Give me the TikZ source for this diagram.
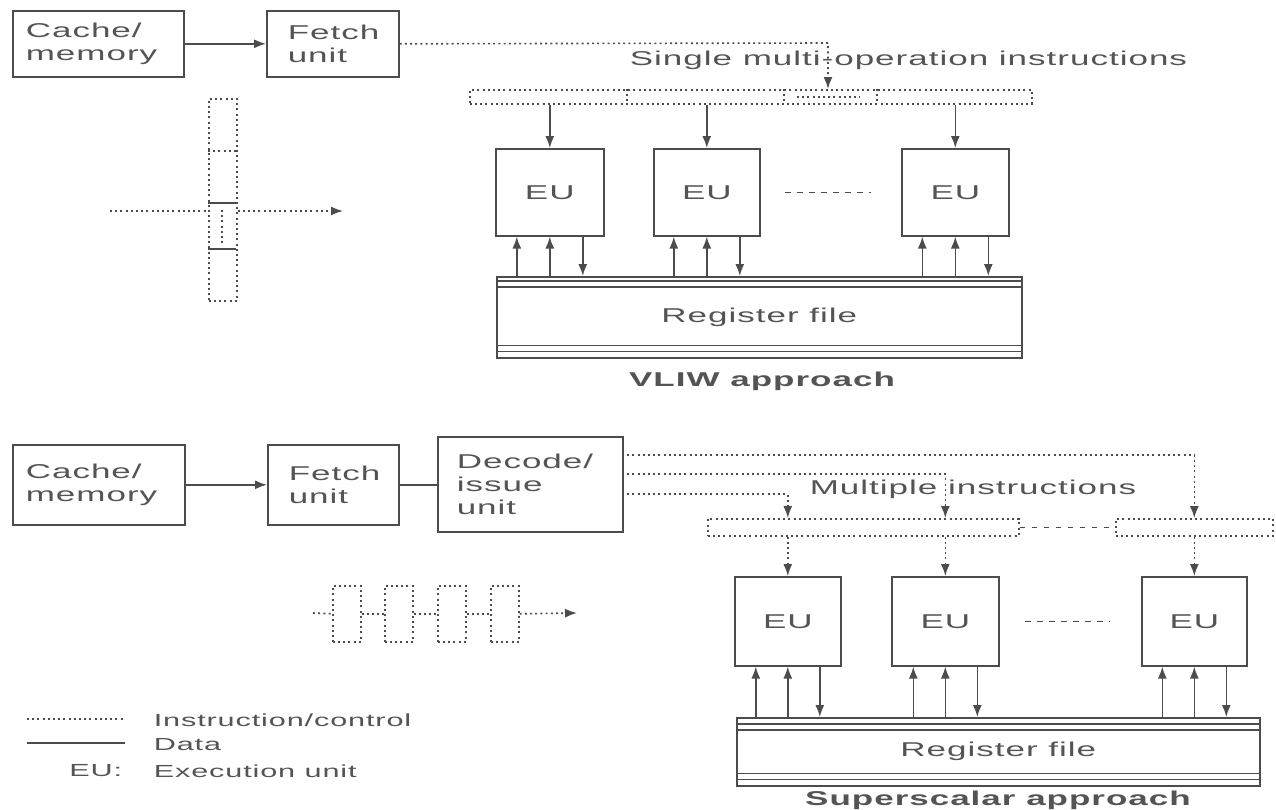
\documentclass[tikz,border=0pt]{standalone}
\usepackage{fontspec}
\setmainfont{Liberation Sans}[FakeStretch=1.75,LetterSpace=5]
\usetikzlibrary{arrows.meta}
\definecolor{ln}{gray}{0.30}
\definecolor{tx}{gray}{0.33}
\begin{document}
\begin{tikzpicture}[x=1pt,y=-1pt,
  line width=1.6pt,
  unitbox/.style={draw=ln, line width=1.6pt, text=tx, font=\fontsize{20}{23}\selectfont,
    anchor=north west, align=left, inner ysep=0pt},
  eubox/.style={draw=ln, line width=1.6pt, text=tx, font=\fontsize{20}{23}\selectfont,
    anchor=north west, inner sep=0pt},
  lbl/.style={text=tx, font=\fontsize{20}{23}\selectfont, inner sep=0pt},
  keytext/.style={text=tx, font=\fontsize{17.5}{20}\selectfont, inner sep=0pt},
  title/.style={text=tx, font=\fontsize{20}{23}\selectfont\bfseries, inner sep=0pt},
  dataln/.style={draw=ln, line width=1.6pt},
  ctrl/.style={draw=ln, line width=1.6pt, dash pattern=on 2pt off 3.2pt},
  gap/.style={draw=ln, line width=1.6pt, dash pattern=on 6pt off 6pt},
  tip/.style={-{Latex[length=12pt,width=9pt]}},
  regline/.style={draw=ln, line width=1.2pt}
]
\useasboundingbox (0,0) rectangle (1276,809);

% ---------------- VLIW approach ----------------
\node[unitbox, minimum width=171pt, minimum height=66pt, text width=145pt, inner xsep=13pt]
  (cacheA) at (12,10) {Cache/\\memory};
\node[unitbox, minimum width=132pt, minimum height=66pt, text width=90pt, inner xsep=21pt]
  (fetchA) at (266,10) {Fetch\\unit};
\draw[dataln,tip] (cacheA) -- (fetchA);

% long instruction word
\node[ctrl, anchor=north west, minimum width=562pt, minimum height=14pt, inner sep=0pt]
  (wordA) at (469,89) {};
\foreach \x in {627,784,877} \draw[ctrl] (\x,89) -- (\x,103);
\draw[ctrl] (797,97) -- (860,97);
\coordinate (turnA) at (828,43);
\draw[ctrl,tip] (fetchA.east) -- (turnA) -- (turnA |- wordA.north);
\node[lbl, anchor=west] (multiop) at (629,60) {Single multi-operation instructions};

% execution units
\node[eubox, minimum width=108pt, minimum height=87pt] (euA1) at (495,148) {EU};
\node[eubox, minimum width=106pt, minimum height=87pt] (euA2) at (653,148) {EU};
\node[eubox, minimum width=107pt, minimum height=87pt] (euA3) at (901,148) {EU};
\draw[gap] (euA2.east) ++(24,0) coordinate (gA1) -- ++(86,0) coordinate (gA2);
\foreach \e in {euA1,euA2,euA3}
  \draw[dataln,tip] (\e.north |- wordA.south) -- (\e.north);

% register file
\node[draw=ln, anchor=north west, minimum width=525pt, minimum height=81pt, inner sep=0pt,
  text=tx, font=\fontsize{20}{23}\selectfont] (regA) at (496,276) {Register file};
\draw[regline] ([yshift=-5pt]regA.north west) -- ([yshift=-5pt]regA.north east)
  ([yshift=-11pt]regA.north west) -- ([yshift=-11pt]regA.north east)
  ([yshift=7pt]regA.south west) -- ([yshift=7pt]regA.south east)
  ([yshift=13pt]regA.south west) -- ([yshift=13pt]regA.south east);
\foreach \e in {euA1,euA2,euA3}{
  \draw[dataln,tip] ([xshift=-33pt]\e.south |- regA.north) -- ([xshift=-33pt]\e.south);
  \draw[dataln,tip] (\e.south |- regA.north) -- (\e.south);
  \draw[dataln,tip] ([xshift=33pt]\e.south) -- ([xshift=33pt]\e.south |- regA.north);
}
\node[title] (vliw) at (762,381) {VLIW approach};

% one long instruction
\node[ctrl, anchor=north west, minimum width=28pt, minimum height=202pt, inner sep=0pt]
  (longword) at (208,98) {};
\draw[ctrl] (208,151) -- (236,151);
\draw[regline] (208,203) -- (236,203) (208,249) -- (236,249);
\draw[ctrl,line width=1.2pt] (222,210) -- (222,243);
\coordinate (inA) at (110,211);
\coordinate (outA) at (343,211);
\draw[ctrl] (inA) -- (inA -| longword.west);
\draw[ctrl,tip] (outA -| longword.east) -- (outA);

% ---------------- Superscalar approach ----------------
\node[unitbox, minimum width=172pt, minimum height=80pt, text width=146pt, inner xsep=13pt]
  (cacheB) at (12,444) {Cache/\\memory};
\node[unitbox, minimum width=131pt, minimum height=80pt, text width=89pt, inner xsep=21pt]
  (fetchB) at (267,444) {Fetch\\unit};
\node[unitbox, minimum width=185pt, minimum height=95pt, text width=147pt, inner xsep=19pt]
  (decode) at (437,436) {Decode/\\issue\\unit};
\draw[dataln,tip] (cacheB) -- (fetchB);
\draw[dataln] (fetchB.east) -- (fetchB.east -| decode.west);

% instruction slots
\node[ctrl, anchor=north west, minimum width=311pt, minimum height=17pt, inner sep=0pt]
  (slotA) at (707,518) {};
\node[ctrl, anchor=north west, minimum width=157pt, minimum height=17pt, inner sep=0pt]
  (slotB) at (1115,518) {};
\draw[gap, dash pattern=on 5pt off 7pt] (slotA.east) -- (slotB.west);

% execution units
\node[eubox, minimum width=106pt, minimum height=89pt] (euB1) at (734,576) {EU};
\node[eubox, minimum width=107pt, minimum height=89pt] (euB2) at (891,576) {EU};
\node[eubox, minimum width=105pt, minimum height=89pt] (euB3) at (1141,576) {EU};
\draw[gap] (euB2.east) ++(25,0) -- ++(85,0);

% issue paths
\coordinate (iss1) at (622,455);
\coordinate (iss2) at (622,474);
\coordinate (iss3) at (622,494);
\draw[ctrl,tip] (iss1) -- (iss1 -| euB3.north) -- (euB3.north |- slotB.north);
\draw[ctrl,tip] (iss2) -- (iss2 -| euB2.north) -- (euB2.north |- slotA.north);
\draw[ctrl,tip] (iss3) -- (iss3 -| euB1.north) -- (euB1.north |- slotA.north);
\draw[ctrl,tip] (euB1.north |- slotA.south) -- (euB1.north);
\draw[ctrl,tip] (euB2.north |- slotA.south) -- (euB2.north);
\draw[ctrl,tip] (euB3.north |- slotB.south) -- (euB3.north);
\node[lbl, anchor=west] (multi) at (809,489) {Multiple instructions};

% register file
\node[draw=ln, anchor=north west, minimum width=523pt, minimum height=68pt, inner sep=0pt,
  text=tx, font=\fontsize{20}{23}\selectfont] (regB) at (736,717) {Register file};
\draw[regline] ([yshift=-7pt]regB.north west) -- ([yshift=-7pt]regB.north east)
  ([yshift=-13pt]regB.north west) -- ([yshift=-13pt]regB.north east)
  ([yshift=7pt]regB.south west) -- ([yshift=7pt]regB.south east)
  ([yshift=13pt]regB.south west) -- ([yshift=13pt]regB.south east);
\foreach \e in {euB1,euB2,euB3}{
  \draw[dataln,tip] ([xshift=-32pt]\e.south |- regB.north) -- ([xshift=-32pt]\e.south);
  \draw[dataln,tip] (\e.south |- regB.north) -- (\e.south);
  \draw[dataln,tip] ([xshift=32pt]\e.south) -- ([xshift=32pt]\e.south |- regB.north);
}
\node[title] (sscal) at (998,800) {Superscalar approach};

% a stream of instructions
\foreach \n/\x in {1/332,2/384,3/437,4/490}
  \node[ctrl, anchor=north west, minimum width=28pt, minimum height=56pt, inner sep=0pt]
    (ins\n) at (\x,585) {};
\coordinate (inB) at (313,613);
\coordinate (outB) at (577,613);
\draw[ctrl] (inB) -- (ins1.west);
\draw[ctrl] (ins1.east) -- (ins2.west);
\draw[ctrl] (ins2.east) -- (ins3.west);
\draw[ctrl] (ins3.east) -- (ins4.west);
\draw[ctrl,tip] (ins4.east) -- (outB);

% legend
\coordinate (lg1a) at (27,719); \coordinate (lg1b) at (125,719);
\coordinate (lg2a) at (27,743); \coordinate (lg2b) at (125,743);
\draw[ctrl] (lg1a) -- (lg1b);
\draw[dataln] (lg2a) -- (lg2b);
\node[keytext, anchor=west] (lgctrl) at (153,720) {Instruction/control};
\node[keytext, anchor=west] (lgdata) at (153,745) {Data};
\node[keytext, anchor=east] (lgeu) at (123,771) {EU:};
\node[keytext, anchor=west] (lgexec) at (153,771) {Execution unit};
\end{tikzpicture}
\end{document}
